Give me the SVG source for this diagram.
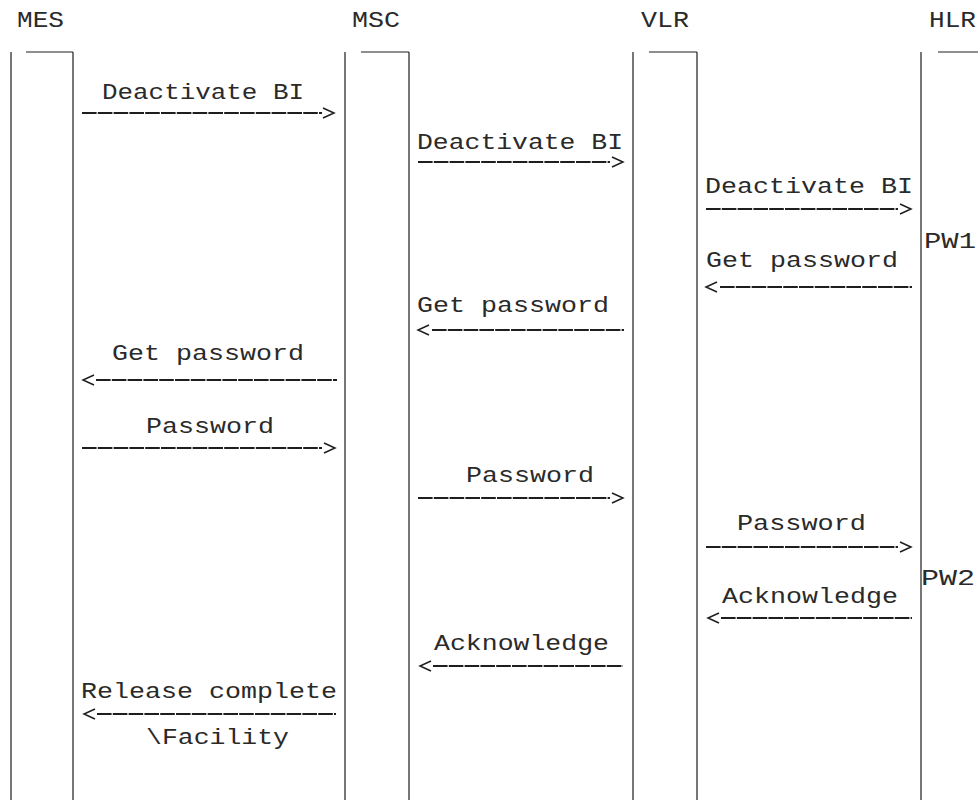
<svg xmlns="http://www.w3.org/2000/svg" width="978" height="800" viewBox="0 0 978 800">
  <style>
    text { font-family: "Liberation Mono", "DejaVu Sans Mono", monospace; font-size: 22.5px; fill: #2a2a2a; }
    .life { stroke: #1e1e1e; stroke-width: 1.2; fill: none; }
    .dash { stroke: #1e1e1e; stroke-width: 2; fill: none; stroke-dasharray: 14.6 1.2; }
    .head { stroke: #1e1e1e; stroke-width: 1.5; fill: none; stroke-linejoin: miter; }
  </style>
  <rect width="978" height="800" fill="#ffffff"/>

  <!-- lifelines: header, left rail, right rail and top cap -->
  <g id="node-mes">
    <text x="17" y="27" textLength="47" lengthAdjust="spacingAndGlyphs">MES</text>
    <path class="life" d="M11 52V800M73 52V800M26 52H73"/>
  </g>
  <g id="node-msc">
    <text x="352" y="27" textLength="48" lengthAdjust="spacingAndGlyphs">MSC</text>
    <path class="life" d="M345 52V800M409 52V800M361 52H409"/>
  </g>
  <g id="node-vlr">
    <text x="641" y="27" textLength="48" lengthAdjust="spacingAndGlyphs">VLR</text>
    <path class="life" d="M633 52V800M697 52V800M649 52H697"/>
  </g>
  <g id="node-hlr">
    <text x="929" y="27" textLength="47" lengthAdjust="spacingAndGlyphs">HLR</text>
    <path class="life" d="M921 52V800M938 52H978"/>
    <text x="924" y="248" textLength="52" lengthAdjust="spacingAndGlyphs">PW1</text>
    <text x="921" y="585" textLength="54" lengthAdjust="spacingAndGlyphs">PW2</text>
  </g>

  <!-- messages -->
  <g id="connectors">
    <g id="msg-1">
      <text x="102" y="99" textLength="202" lengthAdjust="spacingAndGlyphs">Deactivate BI</text>
      <path class="dash" d="M82 113H322"/>
      <path class="head" d="M323 108L334 113L323 118"/>
    </g>
    <g id="msg-2">
      <text x="417" y="149" textLength="206" lengthAdjust="spacingAndGlyphs">Deactivate BI</text>
      <path class="dash" d="M418 162H610"/>
      <path class="head" d="M612 157L623 162L612 167"/>
    </g>
    <g id="msg-3">
      <text x="705" y="193" textLength="208" lengthAdjust="spacingAndGlyphs">Deactivate BI</text>
      <path class="dash" d="M706 209H898"/>
      <path class="head" d="M900 204L911 209L900 214"/>
    </g>
    <g id="msg-4">
      <text x="706" y="267" textLength="192" lengthAdjust="spacingAndGlyphs">Get password</text>
      <path class="head" d="M717 282L706 287L717 292"/>
      <path class="dash" d="M720 287H912"/>
    </g>
    <g id="msg-5">
      <text x="417" y="312" textLength="192" lengthAdjust="spacingAndGlyphs">Get password</text>
      <path class="head" d="M429 325L418 330L429 335"/>
      <path class="dash" d="M432 330H624"/>
    </g>
    <g id="msg-6">
      <text x="112" y="360" textLength="192" lengthAdjust="spacingAndGlyphs">Get password</text>
      <path class="head" d="M94 375L83 380L94 385"/>
      <path class="dash" d="M96 380H337"/>
    </g>
    <g id="msg-7">
      <text x="146" y="433" textLength="128" lengthAdjust="spacingAndGlyphs">Password</text>
      <path class="dash" d="M82 448H322"/>
      <path class="head" d="M324 443L335 448L324 453"/>
    </g>
    <g id="msg-8">
      <text x="466" y="482" textLength="128" lengthAdjust="spacingAndGlyphs">Password</text>
      <path class="dash" d="M418 498H610"/>
      <path class="head" d="M612 493L623 498L612 503"/>
    </g>
    <g id="msg-9">
      <text x="737" y="530" textLength="129" lengthAdjust="spacingAndGlyphs">Password</text>
      <path class="dash" d="M706 547H898"/>
      <path class="head" d="M900 542L911 547L900 552"/>
    </g>
    <g id="msg-10">
      <text x="722" y="603" textLength="176" lengthAdjust="spacingAndGlyphs">Acknowledge</text>
      <path class="head" d="M719 613L708 618L719 623"/>
      <path class="dash" d="M721 618H912"/>
    </g>
    <g id="msg-11">
      <text x="434" y="650" textLength="175" lengthAdjust="spacingAndGlyphs">Acknowledge</text>
      <path class="head" d="M431 661L420 666L431 671"/>
      <path class="dash" d="M433 666H623"/>
    </g>
    <g id="msg-12">
      <text x="81" y="698" textLength="256" lengthAdjust="spacingAndGlyphs">Release complete</text>
      <path class="head" d="M95 709L84 714L95 719"/>
      <path class="dash" d="M97 714H336"/>
      <text x="146" y="744" textLength="143" lengthAdjust="spacingAndGlyphs">\Facility</text>
    </g>
  </g>
</svg>
